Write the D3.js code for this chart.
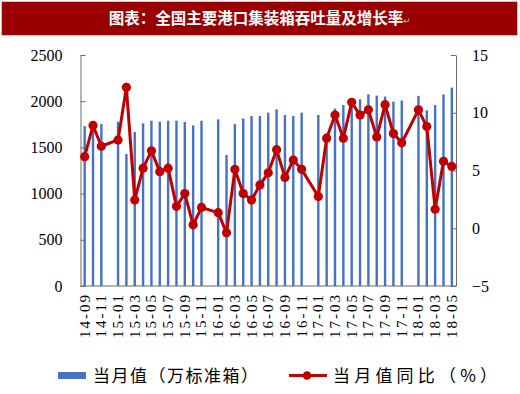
<!DOCTYPE html>
<html>
<head>
<meta charset="utf-8">
<script src="https://cdn.jsdelivr.net/npm/d3@7"></script>
<style>
  body { margin: 0; background: #fff; }
  svg { display: block; }
</style>
</head>
<body>
<div id="chart"></div>
<script>
// months on the x axis (every month, labels shown on every other one)
var months = ["14-09","14-10","14-11","14-12","15-01","15-02","15-03","15-04","15-05","15-06",
  "15-07","15-08","15-09","15-10","15-11","15-12","16-01","16-02","16-03","16-04",
  "16-05","16-06","16-07","16-08","16-09","16-10","16-11","16-12","17-01","17-02",
  "17-03","17-04","17-05","17-06","17-07","17-08","17-09","17-10","17-11","17-12",
  "18-01","18-02","18-03","18-04","18-05"];

// 当月值 (万标准箱), null = no data for that month
var volume = [1732,1753,1753,null,1778,1429,1667,1761,1789,1778,
  1789,1789,1775,1739,1789,null,1804,1418,1753,1812,
  1840,1840,1876,1912,1851,1840,1876,null,1851,1650,
  1920,1958,1996,2020,2074,2060,2050,1996,2007,null,
  2058,1900,1958,2074,2147];

// 当月值同比 (%)
var yoy = [6.2,8.9,7.1,null,7.65,12.2,2.45,5.2,6.7,4.9,
  5.2,1.9,3.0,0.3,1.8,null,1.35,-0.4,5.1,3.0,
  2.45,3.75,4.8,6.8,4.4,5.9,5.1,null,2.75,7.8,
  9.8,7.8,10.9,9.8,10.25,7.9,10.7,8.2,7.4,null,
  10.25,8.8,1.65,5.8,5.35];

var leftTicks = [0, 500, 1000, 1500, 2000, 2500];
var rightTicks = [-5, 0, 5, 10, 15];

var title = "图表：全国主要港口集装箱吞吐量及增长率";
var legendBar = "当月值（万标准箱）";
var legendLine = "当月值同比（%）";

var W = 520, H = 394;
var x0 = 80.5, x1 = 456, yTop = 55, yBot = 286;
var blue = "#4472c4", red = "#c00000", axisColor = "#6b6b6b";
var serif = "'Liberation Serif', 'DejaVu Serif', serif";
var cjk = "'Noto Sans CJK SC', sans-serif";

var svg = d3.select("#chart").append("svg")
    .attr("width", W)
    .attr("height", H);

// title banner
svg.append("rect")
    .attr("x", 1.5).attr("y", 1.5)
    .attr("width", 516).attr("height", 34)
    .attr("fill", "#9a0000")
    .attr("stroke", "#c9c9c9");
svg.append("text")
    .attr("x", 260).attr("y", 24)
    .attr("text-anchor", "middle")
    .attr("fill", "#fff")
    .style("font-family", cjk)
    .style("font-weight", "bold")
    .style("font-size", "15.5px")
    .text(title)
  .append("tspan")
    .attr("fill", "#bbb")
    .style("font-size", "9px")
    .style("font-weight", "normal")
    .text("↵");

var x = d3.scaleBand().domain(months).range([x0, x1]).padding(0);
var yL = d3.scaleLinear().domain([0, 2500]).range([yBot, yTop]);
var yR = d3.scaleLinear().domain([-5, 15]).range([yBot, yTop]);

var rows = months.map(function (m, i) {
    return { month: m, vol: volume[i], yoy: yoy[i] };
});

// bars
svg.append("g").selectAll("rect")
    .data(rows.filter(function (d) { return d.vol != null; }))
    .enter().append("rect")
    .attr("x", function (d) { return x(d.month) + x.bandwidth() / 2 - 1.2; })
    .attr("width", 2.4)
    .attr("y", function (d) { return yL(d.vol); })
    .attr("height", function (d) { return yL(0) - yL(d.vol); })
    .attr("fill", blue);

// axes
var gl = svg.append("g")
    .attr("transform", "translate(" + x0 + ",0)")
    .call(d3.axisLeft(yL).tickValues(leftTicks).tickFormat(d3.format("d"))
        .tickSizeInner(-5).tickSizeOuter(0).tickPadding(18));
var gr = svg.append("g")
    .attr("transform", "translate(" + x1 + ",0)")
    .call(d3.axisRight(yR).tickValues(rightTicks).tickFormat(d3.format("d"))
        .tickSizeInner(-5).tickSizeOuter(0).tickPadding(16));
[gl, gr].forEach(function (g) {
    g.selectAll("path, line").attr("stroke", axisColor);
    g.selectAll("text")
        .attr("fill", "#000")
        .style("font-family", serif)
        .style("font-size", "16px");
});

svg.append("line")
    .attr("x1", x0).attr("x2", x1)
    .attr("y1", yBot).attr("y2", yBot)
    .attr("stroke", axisColor);

// x labels, every other month, rotated
svg.append("g").selectAll("text")
    .data(months.filter(function (m, i) { return i % 2 === 0; }))
    .enter().append("text")
    .attr("transform", function (d) {
        return "translate(" + (x(d) + x.bandwidth() / 2 + 5) + "," + 293 + ") rotate(-90)";
    })
    .attr("text-anchor", "end")
    .style("font-family", serif)
    .style("font-size", "15px")
    .style("letter-spacing", "2px")
    .text(function (d) { return d; });

// yoy line
var pts = rows.filter(function (d) { return d.yoy != null; });
var line = d3.line()
    .x(function (d) { return x(d.month) + x.bandwidth() / 2; })
    .y(function (d) { return yR(d.yoy); });
svg.append("path")
    .datum(pts)
    .attr("d", line)
    .attr("fill", "none")
    .attr("stroke", red)
    .attr("stroke-width", 3)
    .attr("stroke-linejoin", "round");
svg.append("g").selectAll("circle")
    .data(pts)
    .enter().append("circle")
    .attr("cx", function (d) { return x(d.month) + x.bandwidth() / 2; })
    .attr("cy", function (d) { return yR(d.yoy); })
    .attr("r", 4.6)
    .attr("fill", red);

// legend
var lg = svg.append("g");
lg.append("rect")
    .attr("x", 58).attr("y", 372)
    .attr("width", 28).attr("height", 7)
    .attr("fill", blue);
lg.append("text")
    .attr("x", 93).attr("y", 382)
    .attr("textLength", 165)
    .attr("lengthAdjust", "spacing")
    .style("font-family", cjk)
    .style("font-size", "17px")
    .text(legendBar);
lg.append("line")
    .attr("x1", 289).attr("x2", 327)
    .attr("y1", 375.5).attr("y2", 375.5)
    .attr("stroke", red)
    .attr("stroke-width", 3);
lg.append("circle")
    .attr("cx", 307).attr("cy", 375.5)
    .attr("r", 4.3)
    .attr("fill", red);
lg.append("text")
    .attr("x", 333).attr("y", 382)
    .attr("textLength", 164)
    .attr("lengthAdjust", "spacing")
    .style("font-family", cjk)
    .style("font-size", "17px")
    .text(legendLine);
</script>
</body>
</html>
